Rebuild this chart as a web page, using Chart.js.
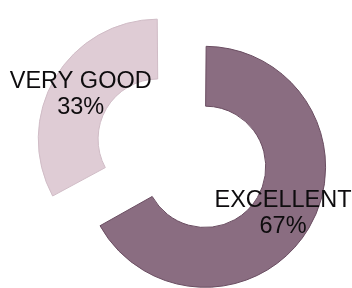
<!DOCTYPE html>
<html>
<head>
<meta charset="utf-8">
<script src="https://cdn.jsdelivr.net/npm/chart.js@4"></script>
<style>
  html, body { margin:0; padding:0; background:#ffffff; }
  canvas { display:block; }
</style>
</head>
<body>
<canvas id="ratingChart" width="352" height="288"></canvas>
<script>
const categories = ["EXCELLENT", "VERY GOOD"];
const shares = [67, 33];
const sliceColors = ["#8a6d81", "#dfccd5"];
const edgeColors = ["#6a4d61", "#d0bcc6"];
const sliceOffsets = [26, 192];

// labels sit in the middle of each (offset) ring segment
const sliceLabels = {
  id: "sliceLabels",
  afterDatasetsDraw(chart) {
    const ctx = chart.ctx;
    const meta = chart.getDatasetMeta(0);
    const total = shares.reduce((s, v) => s + v, 0);
    ctx.save();
    ctx.fillStyle = "#0e0c0e";
    ctx.font = "23.5px 'Liberation Sans', Arial, sans-serif";
    ctx.textAlign = "center";
    ctx.textBaseline = "middle";
    meta.data.forEach((arc, i) => {
      const p = arc.getProps(["x", "y", "startAngle", "endAngle", "innerRadius", "outerRadius", "circumference"], true);
      const mid = (p.startAngle + p.endAngle) / 2;
      const shift = sliceOffsets[i] / 4;
      const fix = 1 - Math.sin(Math.min(Math.PI, p.circumference));
      const r = shift + (p.innerRadius + p.outerRadius) / 2 + shift * fix;
      const x = p.x + Math.cos(mid) * r;
      const y = p.y + Math.sin(mid) * r;
      ctx.fillText(categories[i], x, y - 12);
      ctx.fillText(Math.round(shares[i] / total * 100) + "%", x, y + 14);
    });
    ctx.restore();
  }
};

new Chart(document.getElementById("ratingChart"), {
  type: "doughnut",
  data: {
    labels: categories,
    datasets: [{
      data: shares,
      backgroundColor: sliceColors,
      borderColor: edgeColors,
      borderWidth: 1,
      offset: sliceOffsets,
      clip: false
    }]
  },
  options: {
    responsive: false,
    animation: false,
    radius: 114,
    cutout: "47.5%",
    layout: { padding: { left: 47, right: 0, top: 39, bottom: 0 } },
    plugins: {
      legend: { display: false },
      tooltip: { enabled: false }
    }
  },
  plugins: [sliceLabels]
});
</script>
</body>
</html>
